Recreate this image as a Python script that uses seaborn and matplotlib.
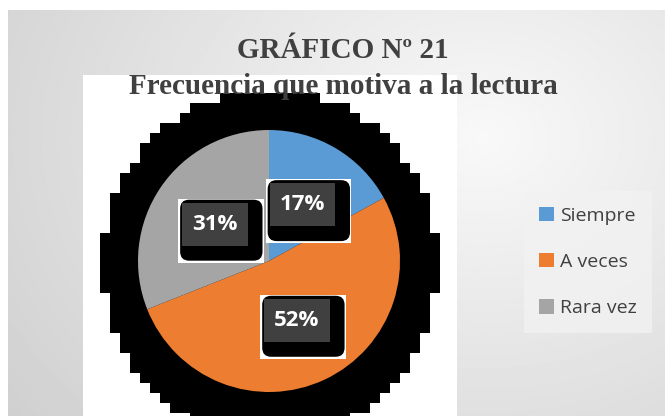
import numpy as np
import matplotlib
matplotlib.use("Agg")
import matplotlib.pyplot as plt
import matplotlib.transforms as mtransforms
import seaborn as sns
from matplotlib.patches import Rectangle, Polygon, FancyBboxPatch

categories = ["Siempre", "A veces", "Rara vez"]
percentages = [17, 52, 31]
colors = ["#5b9bd5", "#ed7d31", "#a5a5a5"]
title_lines = ["GRÁFICO Nº 21", "Frecuencia que motiva a la lectura"]

sns.set_style("white")
palette = sns.color_palette(colors)

W, H = 665, 416
fig = plt.figure(figsize=(W / 100, H / 100), dpi=100)
fig.patch.set_facecolor("white")

# background: gray gradient chart area, white block and stepped black blob behind the pie
bg = fig.add_axes([0, 0, 1, 1], zorder=0)
bg.axis("off")
yy, xx = np.mgrid[0:H, 0:W]
dist = np.sqrt(((xx - 480) / 560.0) ** 2 + ((yy - 130) / 440.0) ** 2)
shade = 0.975 - 0.15 * np.clip(dist, 0, 1.2)
bg.imshow(shade, cmap="gray", vmin=0, vmax=1, extent=(8, W, H, 10), aspect="auto")
bg.add_patch(Rectangle((83, 75), 374, H - 75, facecolor="white", edgecolor="none"))

bx, by, br, step = 270, 265, 172, 10
right, left = [], []
for y0 in range(by - br, H + step, step):
    y1 = y0 + step
    yc = 0 if y0 <= by <= y1 else min(abs(y0 - by), abs(y1 - by))
    half = np.floor(np.sqrt(max(br ** 2 - yc ** 2, 0)) / 10) * 10
    right += [(bx + half, y0), (bx + half, y1)]
    left += [(bx - half, y0), (bx - half, y1)]
bg.add_patch(Polygon(right + left[::-1], closed=True, facecolor="black", edgecolor="none"))
bg.set_xlim(0, W)
bg.set_ylim(H, 0)

# pie
cx, cy, r = 269, 261, 131
ax = fig.add_axes([(cx - r) / W, (H - cy - r) / H, 2 * r / W, 2 * r / H], zorder=1)
wedges, texts, autotexts = ax.pie(
    percentages,
    colors=palette,
    startangle=90,
    counterclock=False,
    autopct=lambda p: f"{p:.0f}%",
    pctdistance=0.5,
    wedgeprops=dict(edgecolor="none"),
)
ax.set_xlim(-1, 1)
ax.set_ylim(-1, 1)

for t in autotexts:
    t.set_fontsize(16)
    t.set_fontweight("bold")
    t.set_family("Open Sans")
    t.set_color("white")
    t.set_zorder(6)

# white square, black rounded shadow and dark box behind each data label
fig.canvas.draw()
ident = mtransforms.IdentityTransform()
for t in autotexts:
    bb = t.get_window_extent()
    xc, yc = (bb.x0 + bb.x1) / 2, (bb.y0 + bb.y1) / 2
    w, h = bb.width + 20, 43
    x0, y0 = xc - w / 2, yc - h / 2
    ax.add_patch(Rectangle((x0 - 4, y0 - 17), w + 20, h + 21, transform=ident,
                           facecolor="white", edgecolor="none", zorder=3))
    ax.add_patch(FancyBboxPatch((x0 - 2, y0 - 15), w + 17, h + 18,
                                boxstyle="round,pad=0,rounding_size=9", transform=ident,
                                facecolor="black", edgecolor="none", zorder=4))
    ax.add_patch(Rectangle((x0, y0), w, h, transform=ident,
                           facecolor="#404040", edgecolor="none", zorder=5))

# legend
leg = fig.legend(
    wedges, categories,
    loc="center left", bbox_to_anchor=(514 / W, 1 - 262 / H),
    frameon=True, fancybox=False, facecolor="#f2f2f2", edgecolor="none",
    handlelength=0.75, handleheight=0.75, handletextpad=0.3,
    labelspacing=1.45, borderpad=0.8,
    prop={"family": "Open Sans", "size": 14},
)
for txt in leg.get_texts():
    txt.set_color("#404040")

# title
fig.text(343 / W, 1 - 50 / H, title_lines[0], ha="center", va="center",
         fontsize=21, fontweight="bold", family="Liberation Serif", color="#404040")
fig.text(343 / W, 1 - 86 / H, title_lines[1], ha="center", va="center",
         fontsize=21, fontweight="bold", family="Liberation Serif", color="#404040")

fig.savefig("out.png", dpi=100)
